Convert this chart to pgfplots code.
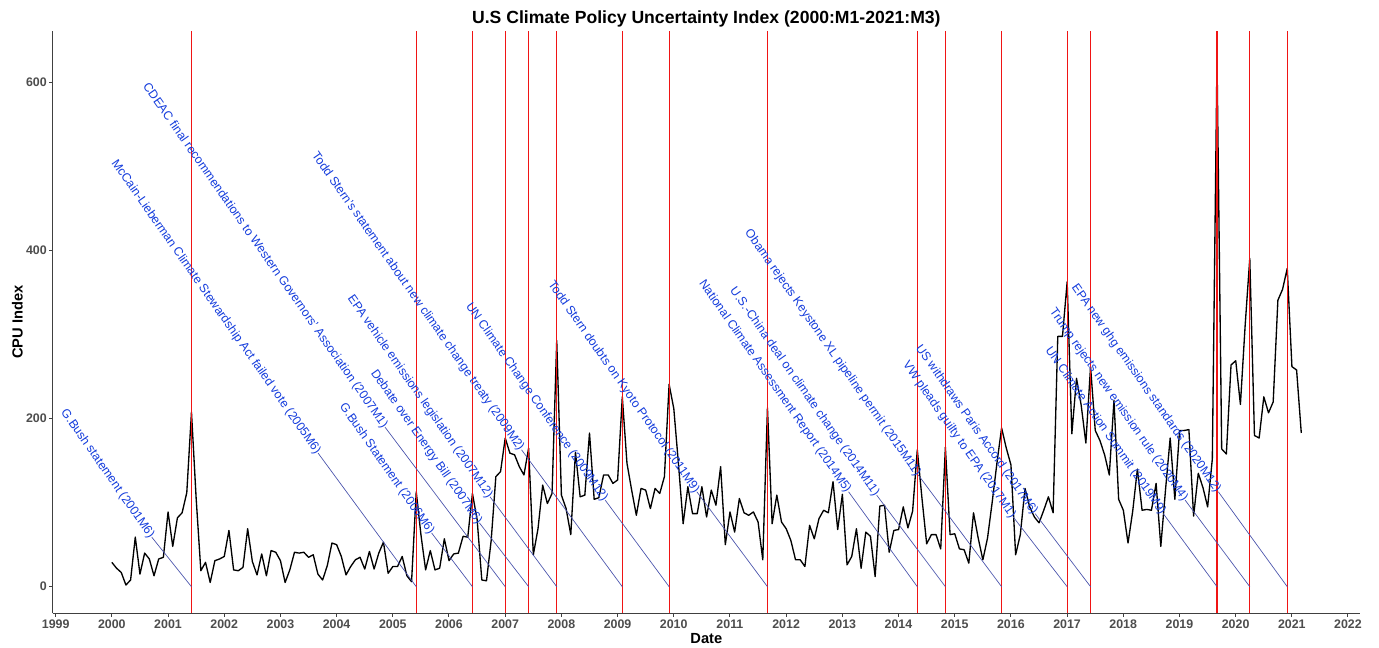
\documentclass[border=0pt]{standalone}
\usepackage{fontspec}
\setmainfont{Liberation Sans}
\usepackage{pgfplots}
\pgfplotsset{compat=1.18}
\usepackage{pgfplotstable}

\definecolor{lblue}{RGB}{20,60,220}
\definecolor{segc}{RGB}{70,80,170}
\definecolor{vred}{RGB}{240,20,20}
\definecolor{tickc}{RGB}{77,77,77}

% monthly CPU index, 2000M1 ... 2021M3
\pgfplotstableread[row sep=\\]{
v\\
29\\ 22\\ 17\\ 2\\ 8\\ 59\\ 15\\ 40\\ 33\\ 13\\ 33\\ 35\\
89\\ 48\\ 82\\ 88\\ 112\\ 208\\ 105\\ 19\\ 29\\ 5\\ 31\\ 33\\
36\\ 67\\ 20\\ 19\\ 23\\ 69\\ 30\\ 14\\ 39\\ 13\\ 43\\ 41\\
31\\ 5\\ 20\\ 41\\ 40\\ 41\\ 35\\ 38\\ 15\\ 8\\ 25\\ 52\\
50\\ 36\\ 14\\ 24\\ 32\\ 35\\ 21\\ 42\\ 21\\ 40\\ 53\\ 16\\
24\\ 24\\ 36\\ 13\\ 6\\ 113\\ 62\\ 20\\ 43\\ 20\\ 22\\ 57\\
31\\ 39\\ 40\\ 60\\ 59\\ 111\\ 80\\ 8\\ 7\\ 55\\ 131\\ 137\\
177\\ 159\\ 157\\ 143\\ 133\\ 165\\ 38\\ 69\\ 121\\ 99\\ 111\\ 293\\
109\\ 93\\ 62\\ 160\\ 107\\ 109\\ 183\\ 104\\ 106\\ 133\\ 133\\ 123\\
127\\ 226\\ 147\\ 115\\ 85\\ 117\\ 115\\ 93\\ 117\\ 111\\ 131\\ 241\\
212\\ 146\\ 75\\ 119\\ 87\\ 87\\ 119\\ 83\\ 115\\ 97\\ 143\\ 50\\
89\\ 65\\ 105\\ 88\\ 85\\ 89\\ 77\\ 32\\ 213\\ 75\\ 109\\ 77\\
69\\ 55\\ 32\\ 32\\ 24\\ 73\\ 57\\ 81\\ 91\\ 88\\ 125\\ 68\\
110\\ 26\\ 36\\ 69\\ 22\\ 65\\ 60\\ 12\\ 96\\ 97\\ 41\\ 67\\
68\\ 95\\ 70\\ 90\\ 163\\ 105\\ 51\\ 62\\ 62\\ 45\\ 166\\ 62\\
63\\ 45\\ 44\\ 28\\ 88\\ 58\\ 32\\ 58\\ 101\\ 147\\ 189\\ 165\\
145\\ 38\\ 62\\ 117\\ 95\\ 83\\ 76\\ 91\\ 107\\ 88\\ 298\\ 298\\
363\\ 182\\ 248\\ 216\\ 171\\ 262\\ 186\\ 174\\ 157\\ 133\\ 222\\ 104\\
91\\ 52\\ 90\\ 140\\ 91\\ 92\\ 91\\ 123\\ 48\\ 115\\ 177\\ 104\\
186\\ 186\\ 187\\ 84\\ 135\\ 118\\ 95\\ 152\\ 630\\ 164\\ 158\\ 264\\
269\\ 217\\ 310\\ 391\\ 180\\ 177\\ 226\\ 207\\ 220\\ 341\\ 354\\ 379\\
262\\ 258\\ 183\\
}\cpu

\newcommand{\vl}[1]{%
  \addplot[vred, line width=0.8pt, forget plot] coordinates {(#1,-31.7) (#1,661.5)};}
\newcommand{\sg}[3]{%
  \addplot[segc, line width=0.5pt, forget plot] coordinates {(#2,#3) (#1,0)};}
\newcommand{\lbl}[3]{\node[rotate=-55, anchor=east, inner sep=0pt, text=lblue, font=\fontsize{9.2}{11}\selectfont] at (axis cs:#1,#2) {#3};}

\begin{document}
\begin{tikzpicture}
\useasboundingbox (-39.525pt,-26pt) rectangle (994.725pt,460pt);
\begin{axis}[
  at={(0,0)}, anchor=south west,
  scale only axis, width=980.5pt, height=436.7pt,
  xmin=1998.947, xmax=2022.212, ymin=-31.7, ymax=661.5,
  axis x line*=bottom, axis y line*=left,
  axis line style={black!75, line width=0.75pt},
  xtick={1999,...,2022}, ytick={0,200,400,600},
  tick align=outside, major tick length=2.6pt,
  tick style={black!75, line width=0.75pt},
  /pgf/number format/assume math mode=true,
  /pgf/number format/1000 sep={},
  ticklabel style={font=\bfseries\fontsize{9.3}{11}\selectfont, text=tickc},
  xticklabel style={anchor=base, yshift=-8.6pt, inner sep=0pt},
  yticklabel style={anchor=east, inner sep=0pt, xshift=-1.7pt},
  title={U.S Climate Policy Uncertainty Index (2000:M1-2021:M3)},
  title style={at={(axis description cs:0.5,1)}, anchor=base, yshift=-0.2pt, inner sep=0pt, font=\bfseries\fontsize{13.2}{15}\selectfont},
  xlabel={Date},
  xlabel style={at={(axis description cs:0.5,0)}, anchor=base, yshift=-23pt, inner sep=0pt, font=\bfseries\fontsize{11}{13}\selectfont},
  ylabel={CPU Index},
  ylabel style={at={(axis description cs:-0.02295,0.5)}, anchor=base, inner sep=0pt, font=\bfseries\fontsize{11}{13}\selectfont},
  clip=false,
]
\addplot[black, line width=1pt, line join=round] table[x expr=2000+\coordindex/12, y=v]{\cpu};

\vl{2001.4167}\vl{2005.4167}\vl{2007.0}\vl{2006.4167}\vl{2007.4167}\vl{2007.9167}
\vl{2009.0833}\vl{2009.9167}\vl{2011.6667}\vl{2014.3333}\vl{2014.8333}\vl{2015.8333}
\vl{2017.0}\vl{2017.4167}\vl{2019.6667}\vl{2020.25}\vl{2020.9167}

\sg{2001.4167}{2000.71}{59}
\sg{2005.4167}{2003.67}{159}
\sg{2007.0}{2004.86}{190}
\sg{2006.4167}{2005.69}{64}
\sg{2007.4167}{2006.54}{76}
\sg{2007.9167}{2006.73}{107}
\sg{2009.0833}{2007.29}{163}
\sg{2009.9167}{2008.78}{103}
\sg{2011.6667}{2010.41}{113}
\sg{2014.3333}{2013.11}{113}
\sg{2014.8333}{2013.61}{109}
\sg{2015.8333}{2014.35}{133}
\sg{2017.0}{2016.04}{83}
\sg{2017.4167}{2016.43}{87}
\sg{2019.6667}{2018.71}{87}
\sg{2020.25}{2019.10}{103}
\sg{2020.9167}{2019.69}{113}

\lbl{2000.71}{59}{G.Bush statement (2001M6)}
\lbl{2003.67}{159}{McCain-Lieberman Climate Stewardship Act failed vote (2005M6)}
\lbl{2004.86}{190}{CDEAC final recommendations to Western Governors' Association (2007M1)}
\lbl{2005.69}{64}{G.Bush Statement (2006M6)}
\lbl{2006.54}{76}{Debate over Energy Bill (2007M6)}
\lbl{2006.73}{107}{EPA vehicle emissions legislation (2007M12)}
\lbl{2007.29}{163}{Todd Stern's statement about new climate change treaty (2009M2)}
\lbl{2008.78}{103}{UN Climate Change Conference (2009M12)}
\lbl{2010.41}{113}{Todd Stern doubts on Kyoto Protocol (2011M9)}
\lbl{2013.11}{113}{National Climate Assessment Report (2014M5)}
\lbl{2013.61}{109}{U.S.-China deal on climate change (2014M11)}
\lbl{2014.35}{133}{Obama rejects Keystone XL pipeline permit (2015M11)}
\lbl{2016.04}{83}{VW pleads guilty to EPA (2017M1)}
\lbl{2016.43}{87}{US withdraws Paris Accord (2017M6)}
\lbl{2018.71}{87}{UN Climate Action Summit (2019M9)}
\lbl{2019.10}{103}{Trump rejects new emission rule (2020M4)}
\lbl{2019.69}{113}{EPA new ghg emissions standards (2020M12)}
\end{axis}
\end{tikzpicture}
\end{document}
